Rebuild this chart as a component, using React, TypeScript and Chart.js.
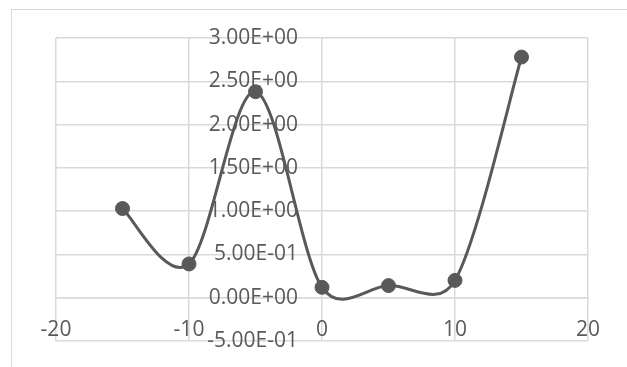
import React, { useEffect, useRef } from "react";
import { Chart, registerables } from "chart.js";

Chart.register(...registerables);

const xValues = [-15, -10, -5, 0, 5, 10, 15];
const yValues = [1.03, 0.39, 2.38, 0.12, 0.14, 0.2, 2.78];
const xTicks = [-20, -10, 0, 10, 20];
const yTicks = [-0.5, 0, 0.5, 1, 1.5, 2, 2.5, 3];

const GRID = "#d9d9d9";
const INK = "#595959";
const FONT = "'Open Sans', 'Liberation Sans', sans-serif";

function fmtExp(v: number): string {
  if (v === 0) return "0.00E+00";
  const s = v.toExponential(2).toUpperCase();
  const m = s.match(/^(-?[\d.]+)E([+-])(\d+)$/);
  if (!m) return s;
  const exp = m[3].padStart(2, "0");
  return `${m[1]}E${m[2]}${exp}`;
}

const dist = (a: any, b: any) => Math.hypot(b.x - a.x, b.y - a.y);

// Excel-style smoothing: Catmull-Rom tangents (1/6) capped at half the segment length
const excelSmooth = {
  id: "excelSmooth",
  beforeDatasetDraw(chart: any, args: any) {
    const meta = args.meta;
    const line = meta.dataset;
    if (!line) return;
    line.updateControlPoints(chart.chartArea, meta.iAxis);
    const pts = meta.data;
    const n = pts.length;
    for (let i = 0; i < n; i++) {
      const p = pts[i];
      const prev = pts[Math.max(0, i - 1)];
      const next = pts[Math.min(n - 1, i + 1)];
      const tx = next.x - prev.x;
      const ty = next.y - prev.y;
      const dpn = Math.hypot(tx, ty);
      const dOut = dist(p, next);
      const dIn = dist(prev, p);
      let fOut = 1 / 6;
      let fIn = 1 / 6;
      if (dpn > 0) {
        if (dpn / 6 > dOut / 2) fOut = dOut / (2 * dpn);
        if (dpn / 6 > dIn / 2) fIn = dIn / (2 * dpn);
      }
      p.cp1x = p.x - fIn * tx;
      p.cp1y = p.y - fIn * ty;
      p.cp2x = p.x + fOut * tx;
      p.cp2y = p.y + fOut * ty;
    }
    line._path = undefined;
  },
};

export default function App() {
  const ref = useRef<HTMLCanvasElement | null>(null);
  useEffect(() => {
    if (!ref.current) return;
    const chart = new Chart(ref.current, {
      type: "scatter",
      data: {
        datasets: [
          {
            data: xValues.map((x, i) => ({ x, y: yValues[i] })),
            showLine: true,
            borderColor: INK,
            backgroundColor: INK,
            borderWidth: 3,
            tension: 0.4,
            pointRadius: 7,
            pointBorderWidth: 1,
            pointBackgroundColor: INK,
            pointBorderColor: INK,
          },
        ],
      },
      plugins: [excelSmooth],
      options: {
        responsive: false,
        animation: false,
        layout: { padding: { left: 56, top: 38, right: 39, bottom: 26 } },
        plugins: { legend: { display: false }, tooltip: { enabled: false } },
        scales: {
          x: {
            type: "linear",
            position: { y: 0 },
            min: -20,
            max: 20,
            afterBuildTicks: (s: any) => {
              s.ticks = xTicks.map((v) => ({ value: v }));
            },
            grid: { color: GRID, lineWidth: 1.5, drawTicks: false },
            border: { color: GRID, width: 1.5 },
            ticks: {
              color: INK,
              font: { family: FONT, size: 21 },
              padding: 20,
              maxRotation: 0,
            },
          },
          y: {
            type: "linear",
            // labels sit 24px left of the x = 0 axis, as in the source
            position: { x: -1.805 },
            min: -0.5,
            max: 3,
            afterBuildTicks: (s: any) => {
              s.ticks = yTicks.map((v) => ({ value: v }));
            },
            grid: { color: GRID, lineWidth: 1.5, drawTicks: false },
            border: { display: false },
            ticks: {
              color: INK,
              font: { family: FONT, size: 21 },
              padding: 0,
              callback: (v: any) => fmtExp(Number(v)),
            },
          },
        },
      },
    });
    return () => chart.destroy();
  }, []);
  return (
    <div style={{ position: "absolute", left: 0, top: 0, width: 627, height: 367, background: "#fff", overflow: "hidden" }}>
      <div
        style={{
          position: "absolute",
          left: 11,
          top: 9,
          width: 640,
          height: 400,
          borderLeft: "1.5px solid #d9d9d9",
          borderTop: "1.5px solid #d9d9d9",
        }}
      />
      <canvas ref={ref} width={627} height={367} style={{ position: "absolute", left: 0, top: 0 }} />
    </div>
  );
}
